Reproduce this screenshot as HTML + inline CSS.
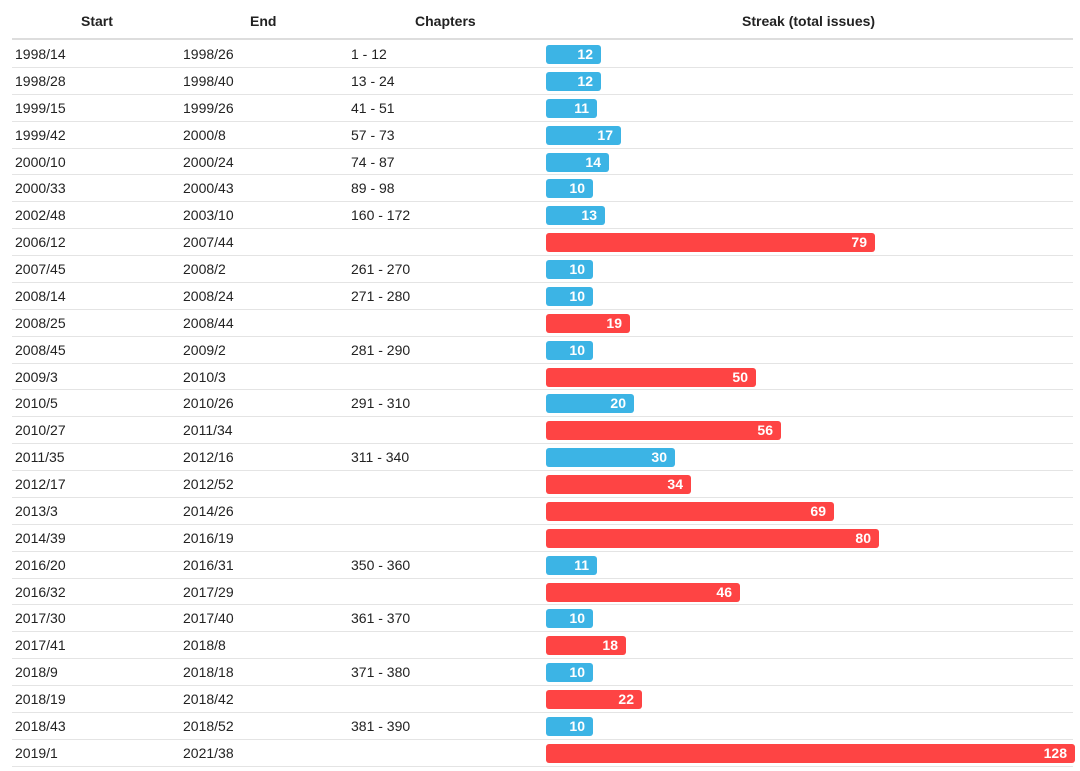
<!DOCTYPE html><html><head><style>
body{margin:0;width:1080px;height:771px;background:#fff;font-family:"Liberation Sans",sans-serif;font-size:14px;color:#222;position:relative;overflow:hidden}
.h{position:absolute;top:0;left:12px;width:1061px;height:40px;border-bottom:2px solid #ddd;box-sizing:border-box;font-weight:bold;font-size:14px}
.h span{position:absolute;top:13px}
.t{position:absolute;top:41px;left:12px;width:1061px}
.r{position:relative;height:26.88px;border-bottom:1px solid #e4e4e4;box-sizing:border-box}
.r span{position:absolute;top:5px}
.a{left:3px}.b{left:171px}.c{left:339px}
.r i{position:absolute;left:534px;top:4px;height:19px;border-radius:3px;background:#3cb4e5;color:#fff;font-style:normal;font-weight:bold;text-align:right;box-sizing:border-box;padding-right:8px;line-height:19px;font-size:14px}
.r i.x{background:#fe4444}
</style></head><body>
<div class="h"><span style="left:69px">Start</span><span style="left:238px">End</span><span style="left:403px">Chapters</span><span style="left:730px">Streak (total issues)</span></div>
<div class="t">
<div class="r"><span class="a">1998/14</span><span class="b">1998/26</span><span class="c">1 - 12</span><i style="width:55px">12</i></div>
<div class="r"><span class="a">1998/28</span><span class="b">1998/40</span><span class="c">13 - 24</span><i style="width:55px">12</i></div>
<div class="r"><span class="a">1999/15</span><span class="b">1999/26</span><span class="c">41 - 51</span><i style="width:51px">11</i></div>
<div class="r"><span class="a">1999/42</span><span class="b">2000/8</span><span class="c">57 - 73</span><i style="width:75px">17</i></div>
<div class="r"><span class="a">2000/10</span><span class="b">2000/24</span><span class="c">74 - 87</span><i style="width:63px">14</i></div>
<div class="r"><span class="a">2000/33</span><span class="b">2000/43</span><span class="c">89 - 98</span><i style="width:47px">10</i></div>
<div class="r"><span class="a">2002/48</span><span class="b">2003/10</span><span class="c">160 - 172</span><i style="width:59px">13</i></div>
<div class="r"><span class="a">2006/12</span><span class="b">2007/44</span><i class="x" style="width:329px">79</i></div>
<div class="r"><span class="a">2007/45</span><span class="b">2008/2</span><span class="c">261 - 270</span><i style="width:47px">10</i></div>
<div class="r"><span class="a">2008/14</span><span class="b">2008/24</span><span class="c">271 - 280</span><i style="width:47px">10</i></div>
<div class="r"><span class="a">2008/25</span><span class="b">2008/44</span><i class="x" style="width:84px">19</i></div>
<div class="r"><span class="a">2008/45</span><span class="b">2009/2</span><span class="c">281 - 290</span><i style="width:47px">10</i></div>
<div class="r"><span class="a">2009/3</span><span class="b">2010/3</span><i class="x" style="width:210px">50</i></div>
<div class="r"><span class="a">2010/5</span><span class="b">2010/26</span><span class="c">291 - 310</span><i style="width:88px">20</i></div>
<div class="r"><span class="a">2010/27</span><span class="b">2011/34</span><i class="x" style="width:235px">56</i></div>
<div class="r"><span class="a">2011/35</span><span class="b">2012/16</span><span class="c">311 - 340</span><i style="width:129px">30</i></div>
<div class="r"><span class="a">2012/17</span><span class="b">2012/52</span><i class="x" style="width:145px">34</i></div>
<div class="r"><span class="a">2013/3</span><span class="b">2014/26</span><i class="x" style="width:288px">69</i></div>
<div class="r"><span class="a">2014/39</span><span class="b">2016/19</span><i class="x" style="width:333px">80</i></div>
<div class="r"><span class="a">2016/20</span><span class="b">2016/31</span><span class="c">350 - 360</span><i style="width:51px">11</i></div>
<div class="r"><span class="a">2016/32</span><span class="b">2017/29</span><i class="x" style="width:194px">46</i></div>
<div class="r"><span class="a">2017/30</span><span class="b">2017/40</span><span class="c">361 - 370</span><i style="width:47px">10</i></div>
<div class="r"><span class="a">2017/41</span><span class="b">2018/8</span><i class="x" style="width:80px">18</i></div>
<div class="r"><span class="a">2018/9</span><span class="b">2018/18</span><span class="c">371 - 380</span><i style="width:47px">10</i></div>
<div class="r"><span class="a">2018/19</span><span class="b">2018/42</span><i class="x" style="width:96px">22</i></div>
<div class="r"><span class="a">2018/43</span><span class="b">2018/52</span><span class="c">381 - 390</span><i style="width:47px">10</i></div>
<div class="r"><span class="a">2019/1</span><span class="b">2021/38</span><i class="x" style="width:529px">128</i></div>
</div>
</body></html>
